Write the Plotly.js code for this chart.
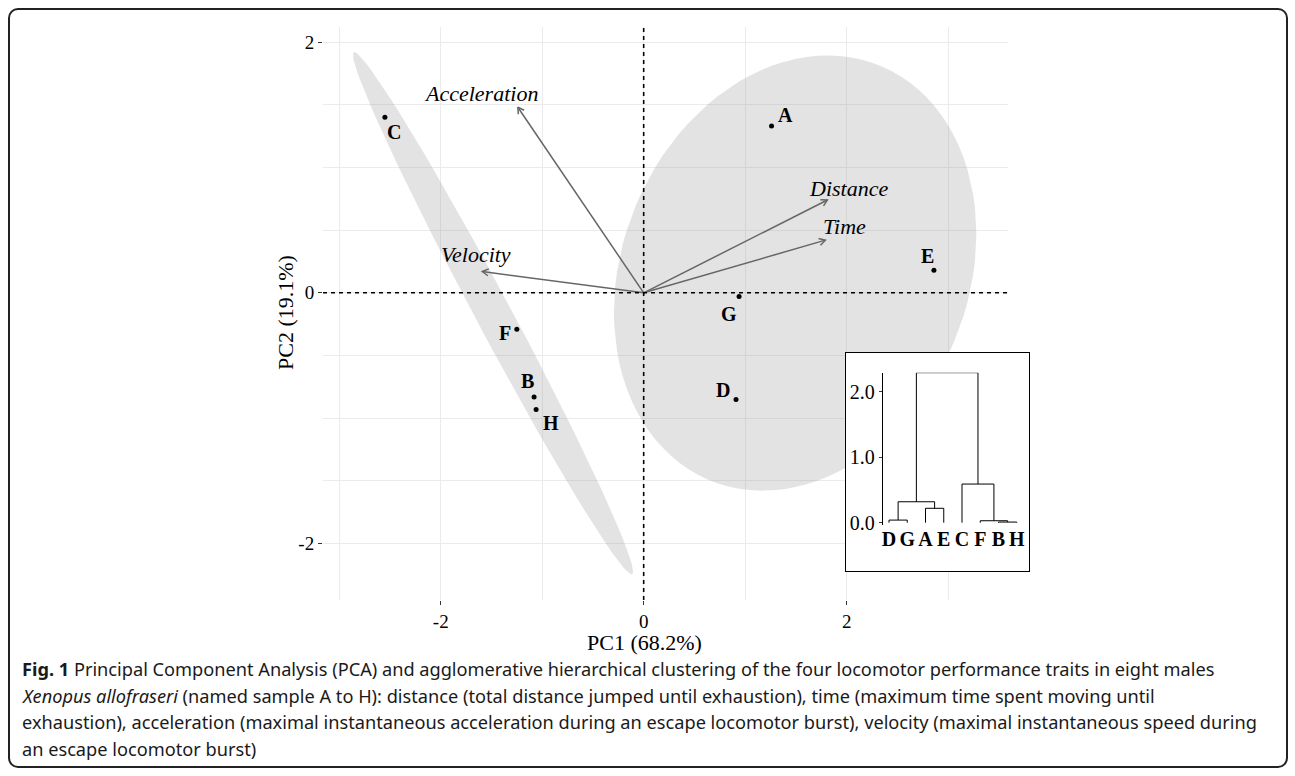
<!DOCTYPE html>
<html>
<head>
<meta charset="utf-8">
<script src="https://cdn.plot.ly/plotly-3.0.1.min.js"></script>
<style>
  html, body { margin: 0; padding: 0; background: #fff; }
  #wrap { position: relative; width: 1295px; height: 776px; }
  #plot { position: absolute; left: 0; top: 0; width: 1295px; height: 776px; }
  #frame { position: absolute; left: 8px; top: 8px; width: 1276px; height: 756px;
           border: 2px solid #222; border-radius: 10px; pointer-events: none; }
</style>
</head>
<body>
<div id="wrap"><div id="plot"></div><div id="frame"></div></div>
<script>
// ---------------- DATA ----------------
const sampleLabels = ['A', 'B', 'C', 'D', 'E', 'F', 'G', 'H'];
const pc1 = [1.26, -1.08, -2.55, 0.91, 2.86, -1.25, 0.94, -1.06];
const pc2 = [1.33, -0.83, 1.40, -0.85, 0.18, -0.29, -0.03, -0.93];
const cluster = [1, 2, 2, 1, 1, 2, 1, 2];

const varNames = ['Acceleration', 'Velocity', 'Distance', 'Time'];
const loadPC1 = [-1.24, -1.59, 1.81, 1.79];
const loadPC2 = [1.48, 0.17, 0.74, 0.42];

const axisTicks = [-2, 0, 2];
const axisTickText = ['-2', '0', '2'];
const xTitle = 'PC1 (68.2%)';
const yTitle = 'PC2 (19.1%)';

// dendrogram (leaf order + merges)
const leafOrder = ['D', 'G', 'A', 'E', 'C', 'F', 'B', 'H'];
const mergeLeft = ['B', 'F', 'D', 'A', 'DG', 'C', 'DGAE'];
const mergeRight = ['H', 'BH', 'G', 'E', 'AE', 'FBH', 'CFBH'];
const mergeHeight = [0.01, 0.03, 0.04, 0.22, 0.32, 0.59, 2.29];
const dendTicks = [0, 1, 2];
const dendTickText = ['0.0', '1.0', '2.0'];

const captionLines = [
  '<b>Fig. 1</b> Principal Component Analysis (PCA) and agglomerative hierarchical clustering of the four locomotor performance traits in eight males',
  '<i>Xenopus allofraseri</i> (named sample A to H): distance (total distance jumped until exhaustion), time (maximum time spent moving until',
  'exhaustion), acceleration (maximal instantaneous acceleration during an escape locomotor burst), velocity (maximal instantaneous speed during',
  'an escape locomotor burst)'
];

// ---------------- STYLE / LAYOUT CONSTANTS ----------------
const XR = [-3.16, 3.59], YR = [-2.45, 2.12];
const ML = 323, MT = 27, PW = 717, PH = 573;    // paper area in pixels
const MAINW = 685;                              // main panel width in pixels
const sx = MAINW / (XR[1] - XR[0]), sy = PH / (YR[1] - YR[0]);
const ELLIPSE_RADIUS = 1.93;
const serif = 'Liberation Serif, Times New Roman, serif';
const pointLabelShift = { A: [14, -11], B: [-7, -16], C: [9, 15], D: [-13, -9], E: [-6, -14], F: [-12, 4], G: [-10, 17], H: [15, 14] };
const varLabelShift = { Acceleration: [-37, -14], Velocity: [-6, -17], Distance: [21, -12], Time: [19, -14] };

const px = p => (p - ML) / PW;          // pixel -> paper x
const py = p => (MT + PH - p) / PH;     // pixel -> paper y

// ---------------- ELLIPSES ----------------
function ellipseTrace(g) {
  const xs = [], ys = [];
  pc1.forEach((v, i) => { if (cluster[i] === g) { xs.push(v); ys.push(pc2[i]); } });
  const n = xs.length;
  const mx = xs.reduce((a, b) => a + b, 0) / n, my = ys.reduce((a, b) => a + b, 0) / n;
  let vx = 0, vy = 0, cxy = 0;
  for (let i = 0; i < n; i++) { vx += (xs[i] - mx) ** 2; vy += (ys[i] - my) ** 2; cxy += (xs[i] - mx) * (ys[i] - my); }
  vx /= (n - 1); vy /= (n - 1); cxy /= (n - 1);
  const r11 = Math.sqrt(vx), r12 = cxy / r11, r22 = Math.sqrt(Math.max(vy - r12 * r12, 0));
  const ex = [], ey = [];
  for (let k = 0; k <= 100; k++) {
    const t = 2 * Math.PI * k / 100;
    ex.push(mx + ELLIPSE_RADIUS * r11 * Math.cos(t));
    ey.push(my + ELLIPSE_RADIUS * (r12 * Math.cos(t) + r22 * Math.sin(t)));
  }
  return { type: 'scatter', mode: 'lines', x: ex, y: ey, fill: 'toself',
           fillcolor: 'rgba(150,150,150,0.27)', line: { width: 0 }, hoverinfo: 'skip', showlegend: false };
}

// ---------------- ARROWS ----------------
const arrowX = [], arrowY = [];
const HEAD = 7, ANG = Math.PI / 6;
varNames.forEach((v, i) => {
  const tx = loadPC1[i], ty = loadPC2[i];
  arrowX.push(0, tx, null); arrowY.push(0, ty, null);
  const a = Math.atan2(ty * sy, tx * sx);
  const h1x = tx - HEAD * Math.cos(a + ANG) / sx, h1y = ty - HEAD * Math.sin(a + ANG) / sy;
  const h2x = tx - HEAD * Math.cos(a - ANG) / sx, h2y = ty - HEAD * Math.sin(a - ANG) / sy;
  arrowX.push(h1x, tx, h2x, null); arrowY.push(h1y, ty, h2y, null);
});

// ---------------- DENDROGRAM ----------------
const nodePos = {};
leafOrder.forEach((l, i) => { nodePos[l] = { x: i + 1, h: 0 }; });
const dX = [], dY = [];
mergeLeft.forEach((l, i) => {
  const r = mergeRight[i], h = mergeHeight[i];
  const a = nodePos[l], b = nodePos[r];
  dX.push(a.x, a.x, b.x, b.x, null); dY.push(a.h, h, h, b.h, null);
  nodePos[l + r] = { x: (a.x + b.x) / 2, h: h };
});

// ---------------- TRACES ----------------
const traces = [
  ellipseTrace(2),
  ellipseTrace(1),
  { type: 'scatter', mode: 'lines', x: arrowX, y: arrowY, line: { color: '#666666', width: 1.5 },
    hoverinfo: 'skip', showlegend: false },
  { type: 'scatter', mode: 'markers', x: pc1, y: pc2, marker: { color: 'black', size: 5 },
    hoverinfo: 'skip', showlegend: false },
  // empty trace that only creates the inset frame subplot
  { type: 'scatter', mode: 'markers', x: [], y: [], xaxis: 'x2', yaxis: 'y2', hoverinfo: 'skip', showlegend: false },
  { type: 'scatter', mode: 'lines', x: dX, y: dY, xaxis: 'x3', yaxis: 'y3',
    line: { color: 'black', width: 1 }, hoverinfo: 'skip', showlegend: false }
];

// ---------------- ANNOTATIONS ----------------
const annotations = [];
sampleLabels.forEach((l, i) => {
  const s = pointLabelShift[l];
  annotations.push({ x: pc1[i], y: pc2[i], xref: 'x', yref: 'y', text: l, showarrow: false,
    xshift: s[0], yshift: -s[1], font: { family: serif, size: 20, color: 'black', weight: 'bold' } });
});
varNames.forEach((v, i) => {
  const s = varLabelShift[v];
  annotations.push({ x: loadPC1[i], y: loadPC2[i], xref: 'x', yref: 'y', text: '<i>' + v + '</i>',
    showarrow: false, xshift: s[0], yshift: -s[1], font: { family: serif, size: 22, color: 'black' } });
});
// axis titles
annotations.push({ x: px(644), y: py(642), xref: 'paper', yref: 'paper', xanchor: 'center', yanchor: 'middle',
  text: xTitle, showarrow: false, font: { family: serif, size: 22, color: 'black' } });
annotations.push({ x: px(285), y: py(313), xref: 'paper', yref: 'paper', xanchor: 'center', yanchor: 'middle',
  text: yTitle, textangle: -90, showarrow: false, font: { family: serif, size: 22, color: 'black' } });
// caption
const capY = [669, 695.5, 722, 748.5];
captionLines.forEach((t, i) => {
  annotations.push({ x: px(20), y: py(capY[i]), xref: 'paper', yref: 'paper', xanchor: 'left', yanchor: 'middle',
    text: t, showarrow: false, align: 'left',
    font: { family: 'Noto Sans, DejaVu Sans, sans-serif', size: 18.2, color: '#1a1a1a' } });
});

// ---------------- LAYOUT ----------------
const grid = '#ebebeb';
const layout = {
  width: 1295, height: 776,
  margin: { l: ML, r: 1295 - ML - PW, t: MT, b: 776 - MT - PH, pad: 0 },
  paper_bgcolor: 'white', plot_bgcolor: 'white',
  showlegend: false,
  xaxis: {
    domain: [0, MAINW / PW], range: XR, tickmode: 'array', tickvals: axisTicks, ticktext: axisTickText,
    showgrid: true, gridcolor: grid, gridwidth: 1, zeroline: false, showline: false,
    ticks: 'outside', ticklen: 4, tickcolor: '#333', tickwidth: 1, ticklabelstandoff: 0,
    minor: { tickmode: 'linear', tick0: 0, dtick: 1, showgrid: true, gridcolor: grid, gridwidth: 1, ticks: '' },
    tickfont: { family: serif, size: 19, color: 'black' },
    automargin: false, fixedrange: true
  },
  yaxis: {
    domain: [0, 1], range: YR, tickmode: 'array', tickvals: axisTicks, ticktext: axisTickText,
    showgrid: true, gridcolor: grid, gridwidth: 1, zeroline: false, showline: false,
    ticks: 'outside', ticklen: 4, tickcolor: '#333', tickwidth: 1,
    minor: { tickmode: 'linear', tick0: 0, dtick: 0.5, showgrid: true, gridcolor: grid, gridwidth: 1, ticks: '' },
    tickfont: { family: serif, size: 19, color: 'black' },
    automargin: false, fixedrange: true
  },
  // inset frame
  xaxis2: { domain: [px(846), px(1029)], anchor: 'y2', range: [0, 1], showgrid: false, zeroline: false,
            showticklabels: false, ticks: '', showline: true, mirror: true, linecolor: 'black', linewidth: 1, fixedrange: true },
  yaxis2: { domain: [py(571), py(353)], anchor: 'x2', range: [0, 1], showgrid: false, zeroline: false,
            showticklabels: false, ticks: '', showline: true, mirror: true, linecolor: 'black', linewidth: 1, fixedrange: true },
  // dendrogram axes
  xaxis3: { domain: [px(882.7), px(1026)], anchor: 'y3', range: [0.655, 8.507], tickmode: 'array',
            tickvals: leafOrder.map((l, i) => i + 1), ticktext: leafOrder, ticks: '', showgrid: false, zeroline: false,
            showline: false, tickfont: { family: serif, size: 20, color: 'black', weight: 'bold' }, fixedrange: true },
  yaxis3: { domain: [py(525), py(372.7)], anchor: 'x3', range: [-0.035, 2.29], tickmode: 'array',
            tickvals: dendTicks, ticktext: dendTickText, ticks: 'outside', ticklen: 3, tickcolor: '#333',
            showgrid: false, zeroline: false, showline: true, linecolor: 'black', linewidth: 1,
            tickfont: { family: serif, size: 20, color: 'black' }, fixedrange: true },
  shapes: [
    { type: 'line', xref: 'x', yref: 'y domain', x0: 0, x1: 0, y0: 0, y1: 1,
      line: { color: 'black', width: 1.6, dash: '4px,4px' }, layer: 'above' },
    { type: 'line', xref: 'x domain', yref: 'y', x0: 0, x1: 1, y0: 0, y1: 0,
      line: { color: 'black', width: 1.6, dash: '4px,4px' }, layer: 'above' }
  ],
  annotations: annotations
};

Plotly.newPlot('plot', traces, layout, { displayModeBar: false, staticPlot: true });
</script>
</body>
</html>
